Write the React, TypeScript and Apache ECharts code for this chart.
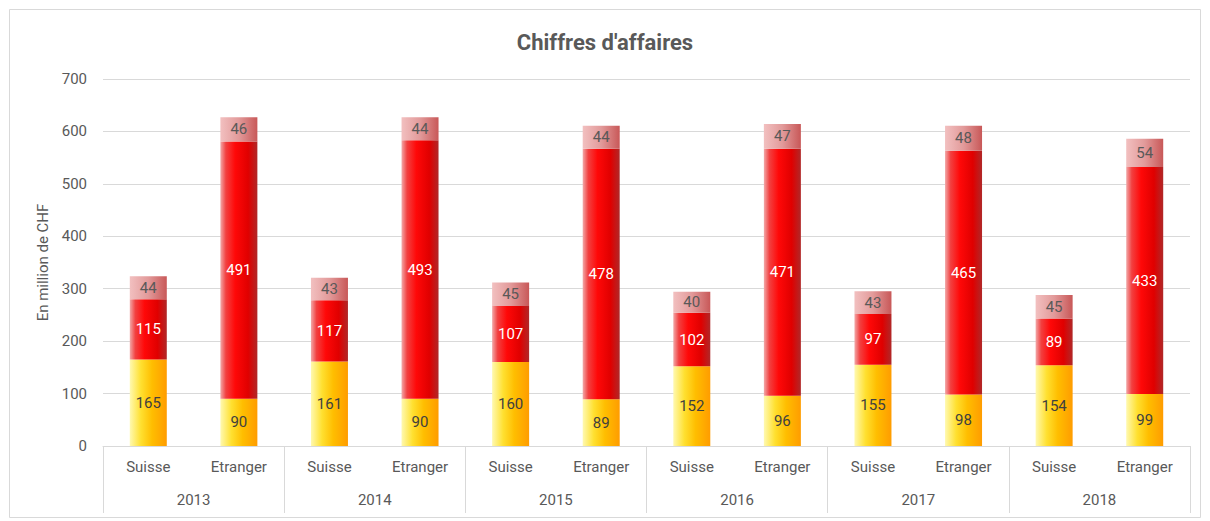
import React, { useEffect, useRef } from "react";
import * as echarts from "echarts";

const years = ["2013", "2014", "2015", "2016", "2017", "2018"];
const markets = ["Suisse", "Etranger"];
const yTicks = [0, 100, 200, 300, 400, 500, 600, 700];

const suisseBottom = [165, 161, 160, 152, 155, 154];
const suisseMiddle = [115, 117, 107, 102, 97, 89];
const suisseTop = [44, 43, 45, 40, 43, 45];

const etrangerBottom = [90, 90, 89, 96, 98, 99];
const etrangerMiddle = [491, 493, 478, 471, 465, 433];
const etrangerTop = [46, 44, 44, 47, 48, 54];

const interleave = (a: number[], b: number[]) => {
  const out: number[] = [];
  a.forEach((v, i) => {
    out.push(v, b[i]);
  });
  return out;
};

const categories: string[] = [];
years.forEach(() => markets.forEach((m) => categories.push(m)));

const FONT = "Roboto";
const TXT = "#595959";

const grad = (stops: [number, string][]) =>
  new echarts.graphic.LinearGradient(
    0,
    0,
    1,
    0,
    stops.map(([offset, color]) => ({ offset, color }))
  );

export default function App() {
  const ref = useRef<HTMLDivElement>(null);
  useEffect(() => {
    document.body.style.margin = "0";
    const chart = echarts.init(ref.current!, undefined, { renderer: "svg" });
    const labelBase = {
      show: true,
      position: "inside",
      fontFamily: FONT,
      fontSize: 15,
    };
    chart.setOption({
      animation: false,
      backgroundColor: "#ffffff",
      title: {
        text: "Chiffres d'affaires",
        left: "center",
        top: 26,
        textStyle: {
          fontFamily: FONT,
          fontSize: 22,
          fontWeight: "bold",
          color: TXT,
        },
      },
      graphic: [
        {
          type: "rect",
          shape: { x: 9.5, y: 9.5, width: 1191, height: 508 },
          style: { fill: "none", stroke: "#d9d9d9", lineWidth: 1 },
          silent: true,
        },
      ],
      grid: { left: 103, right: 20, top: 79, bottom: 75, containLabel: false },
      yAxis: {
        type: "value",
        min: 0,
        max: yTicks[yTicks.length - 1],
        interval: 100,
        name: "En million de CHF",
        nameLocation: "middle",
        nameRotate: 90,
        nameGap: 52,
        nameTextStyle: { fontFamily: FONT, fontSize: 15, color: TXT },
        axisLine: { show: false },
        axisTick: { show: false },
        axisLabel: { fontFamily: FONT, fontSize: 15, color: TXT, margin: 16 },
        splitLine: { lineStyle: { color: "#d9d9d9", width: 1 } },
      },
      xAxis: [
        {
          type: "category",
          data: categories,
          position: "bottom",
          axisLine: { lineStyle: { color: "#d9d9d9", width: 1 } },
          axisTick: { show: false },
          axisLabel: {
            fontFamily: FONT,
            fontSize: 15,
            color: TXT,
            margin: 13,
            interval: 0,
          },
        },
        {
          type: "category",
          data: years,
          position: "bottom",
          axisLine: { show: false },
          axisTick: {
            show: true,
            length: 67,
            lineStyle: { color: "#d9d9d9", width: 1 },
          },
          axisLabel: {
            fontFamily: FONT,
            fontSize: 15,
            color: TXT,
            margin: 46,
            interval: 0,
          },
          splitLine: { show: false },
        },
      ],
      series: [
        {
          name: "bottom",
          type: "bar",
          stack: "total",
          barWidth: 37,
          xAxisIndex: 0,
          data: interleave(suisseBottom, etrangerBottom),
          itemStyle: {
            color: grad([
              [0, "#fff9b0"],
              [0.3, "#ffe030"],
              [0.6, "#ffbe00"],
              [1, "#ff9c00"],
            ]),
          },
          label: { ...labelBase, color: "#404040" },
        },
        {
          name: "middle",
          type: "bar",
          stack: "total",
          barWidth: 37,
          xAxisIndex: 0,
          data: interleave(suisseMiddle, etrangerMiddle),
          itemStyle: {
            color: grad([
              [0, "#f2a8a8"],
              [0.15, "#f24040"],
              [0.4, "#ff0808"],
              [0.75, "#e00000"],
              [1, "#b02828"],
            ]),
          },
          label: { ...labelBase, color: "#ffffff" },
        },
        {
          name: "top",
          type: "bar",
          stack: "total",
          barWidth: 37,
          xAxisIndex: 0,
          data: interleave(suisseTop, etrangerTop),
          itemStyle: {
            color: grad([
              [0, "#f2c0c0"],
              [0.5, "#e29a9a"],
              [1, "#c85858"],
            ]),
          },
          label: { ...labelBase, color: TXT },
        },
      ],
    });
    return () => chart.dispose();
  }, []);
  return <div ref={ref} style={{ width: 1210, height: 521 }} />;
}
